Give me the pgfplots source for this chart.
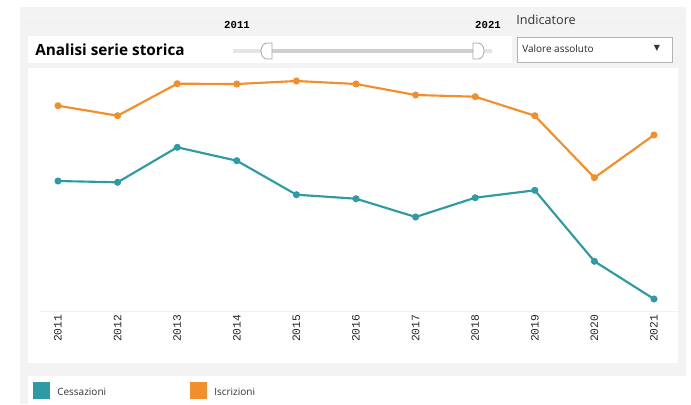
\documentclass[border=0pt]{standalone}
\usepackage{fontspec}
\setmainfont{Open Sans}
\newfontfamily\tickfont{Liberation Mono}
\newfontfamily\symfont{DejaVu Sans}
\usepackage{pgfplots}
\pgfplotsset{compat=1.18}

\definecolor{teal1}{HTML}{2E9AA4}
\definecolor{orange1}{HTML}{F28E2B}
\definecolor{panel}{HTML}{F3F3F3}

\begin{document}
\begin{tikzpicture}
% layout drawn in pixel units (y grows downwards)
\begin{scope}[x=0.75pt,y=-0.75pt]
  \fill[white] (0,0) rectangle (691,404);
  \fill[panel] (20,7) rectangle (686,404);
  \draw[gray!12, line width=0.5pt] (20,23) -- (686,23);
  \fill[white] (28,36) rectangle (512,63);
  \fill[white] (28,68) rectangle (678,363);
  \fill[white] (28,376) rectangle (686,404);
  \draw[gray!10, line width=0.6pt] (40,311) -- (678,311);
  % title
  \node[anchor=west, inner sep=0, font=\bfseries\fontsize{11.5}{13}\selectfont] at (35,50) {Analisi serie storica};
  % slider
  \draw[gray!20, line width=3pt] (233,51) -- (492,51);
  \draw[gray!38, line width=3.6pt] (267,51) -- (478,51);
  \filldraw[fill=white, draw=gray!70, line width=0.6pt]
    (272,43) -- (267,43) arc[start angle=270, end angle=90, x radius=6, y radius=8] -- (272,59) -- cycle;
  \filldraw[fill=white, draw=gray!70, line width=0.6pt]
    (473,43) -- (478,43) arc[start angle=-90, end angle=90, x radius=6, y radius=8] -- (473,59) -- cycle;
  \node[anchor=center, inner sep=0, font=\tickfont\bfseries\fontsize{8}{9}\selectfont] at (237,25) {2011};
  \node[anchor=center, inner sep=0, font=\tickfont\bfseries\fontsize{8}{9}\selectfont] at (488,25) {2021};
  % indicator
  \node[anchor=west, inner sep=0, font=\fontsize{9.5}{11}\selectfont, text=black!80] at (516,20) {Indicatore};
  \filldraw[fill=white, draw=gray!60, line width=0.6pt] (517,37) rectangle (672,62);
  \node[anchor=west, inner sep=0, font=\fontsize{7.5}{9}\selectfont, text=black!85] at (522,49) {Valore assoluto};
  \node[anchor=center, inner sep=0, font=\symfont\fontsize{6}{7}\selectfont, text=black!80] at (657,48) {▼};
  % legend
  \fill[teal1] (33,382) rectangle (50,399);
  \node[anchor=west, inner sep=0, font=\fontsize{7.5}{9}\selectfont, text=black!80] at (57,392) {Cessazioni};
  \fill[orange1] (190,382) rectangle (207,399);
  \node[anchor=west, inner sep=0, font=\fontsize{7.5}{9}\selectfont, text=black!80] at (214,392) {Iscrizioni};
  \path (0,0) rectangle (691,404);
\end{scope}

\begin{axis}[
    at={(21.15pt,-232.5pt)}, anchor=south west,
    scale only axis, width=491.7pt, height=180pt,
    xmin=2010.5, xmax=2021.5, ymin=0, ymax=240,
    axis line style={draw=none},
    major tick length=0pt,
    ytick=\empty,
    xtick={2011,2012,2013,2014,2015,2016,2017,2018,2019,2020,2021},
    xticklabels={2011,2012,2013,2014,2015,2016,2017,2018,2019,2020,2021},
    xticklabel style={rotate=90, anchor=east, font=\tickfont\fontsize{8.5}{10}\selectfont, text=black!85},
    clip=false,
    every axis plot/.append style={line width=1.6pt, mark=*, mark size=1.8pt},
]
% Iscrizioni
\addplot[color=orange1, mark options={fill=orange1, draw=orange1}] coordinates {
  (2011,204.3)(2012,194.3)(2013,226.3)(2014,226.0)(2015,229.0)(2016,226.0)
  (2017,215.0)(2018,213.3)(2019,194.3)(2020,132.3)(2021,175.0)
};
% Cessazioni
\addplot[color=teal1, mark options={fill=teal1, draw=teal1}] coordinates {
  (2011,129.0)(2012,127.7)(2013,162.7)(2014,149.3)(2015,115.3)(2016,111.3)
  (2017,93.0)(2018,112.3)(2019,119.7)(2020,48.7)(2021,11.0)
};
\end{axis}
\end{tikzpicture}
\end{document}
